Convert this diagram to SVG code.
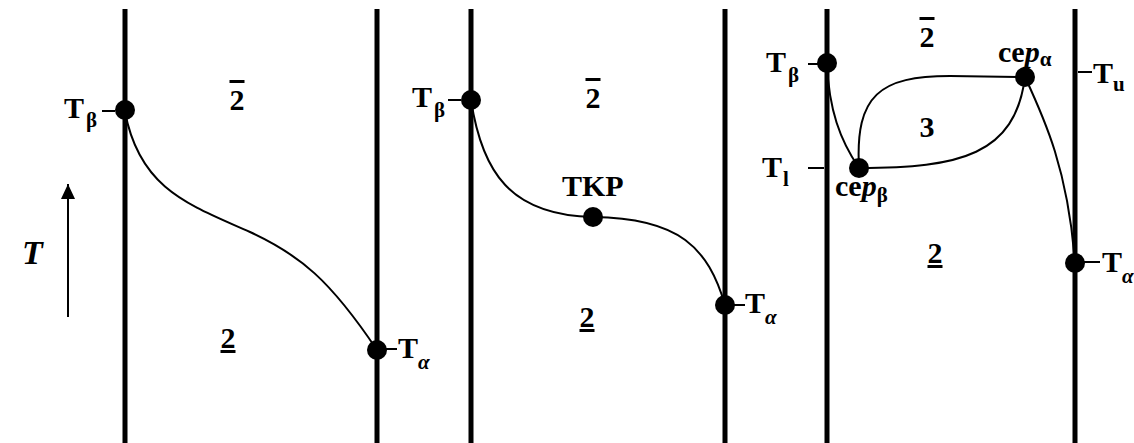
<svg xmlns="http://www.w3.org/2000/svg" width="1134" height="443" viewBox="0 0 1134 443">
<defs>
<style>
.axis{stroke:#000;stroke-width:5;fill:none}
.curve{stroke:#000;stroke-width:2;fill:none}
.tick{stroke:#000;stroke-width:2}
.dot{fill:#000}
text{font-family:"Liberation Serif","DejaVu Serif","Times New Roman",serif;font-weight:bold;fill:#000}
.lbl{font-size:30px}
.sub{font-size:21px}
.it{font-style:italic}
.ov{text-decoration:overline}
.un{text-decoration:underline}
</style>
<marker id="ah" viewBox="0 0 15 14" refX="15" refY="7" markerWidth="15" markerHeight="14" markerUnits="userSpaceOnUse" orient="auto">
<path d="M0,0 L15,7 L0,14 Z" fill="#000"/>
</marker>
</defs>
<rect width="1134" height="443" fill="#fff"/>

<g id="axes">
<line class="axis" x1="125" y1="9" x2="125" y2="443"/>
<line class="axis" x1="377" y1="9" x2="377" y2="443"/>
<line class="axis" x1="471" y1="9" x2="471" y2="443"/>
<line class="axis" x1="725" y1="9" x2="725" y2="443"/>
<line class="axis" x1="827" y1="9" x2="827" y2="443"/>
<line class="axis" x1="1075" y1="9" x2="1075" y2="443"/>
</g>

<g id="connectors">
<path class="curve" d="M125,112 C140,190 190,205 250,232 C300,255 330,280 377,350"/>
<path class="curve" d="M471,100 C482,172 510,215 593,217 C680,218 708,248 725,305"/>
<path class="curve" d="M827,64 C829,110 840,140 859,168"/>
<path class="curve" d="M859,168 C855,95 880,76 950,76 L1025,77"/>
<path class="curve" d="M859,168 C960,168 1015,155 1025,77"/>
<path class="curve" d="M1025,77 C1045,120 1068,170 1075,263"/>
<line class="tick" x1="102" y1="111" x2="115" y2="111"/>
<line class="tick" x1="386" y1="349" x2="397" y2="349"/>
<line class="tick" x1="448" y1="100" x2="461" y2="100"/>
<line class="tick" x1="734" y1="305" x2="745" y2="305"/>
<line class="tick" x1="808" y1="64" x2="820" y2="64"/>
<line class="tick" x1="808" y1="168" x2="824" y2="168"/>
<line class="tick" x1="1078" y1="72" x2="1092" y2="72"/>
<line class="tick" x1="1084" y1="262" x2="1100" y2="262"/>
</g>

<g id="axis-T">
<line x1="68" y1="317" x2="68" y2="184" stroke="#000" stroke-width="2" marker-end="url(#ah)"/>
<text class="it" x="22" y="264" style="font-size:34px">T</text>
</g>

<g id="p1-Tbeta">
<circle class="dot" cx="125" cy="110" r="10"/>
<text class="lbl" x="64" y="118">T<tspan class="sub" x="86" y="127">β</tspan></text>
</g>
<g id="p1-Talpha">
<circle class="dot" cx="377" cy="350" r="10"/>
<text class="lbl" x="398" y="358">T<tspan class="sub it" x="418" y="369">α</tspan></text>
</g>
<g id="p1-labels">
<text class="lbl ov" x="237" y="110" text-anchor="middle">2</text>
<text class="lbl un" x="228" y="348" text-anchor="middle">2</text>
</g>

<g id="p2-Tbeta">
<circle class="dot" cx="471" cy="100" r="10"/>
<text class="lbl" x="412" y="107">T<tspan class="sub" x="434" y="117">β</tspan></text>
</g>
<g id="p2-TKP">
<circle class="dot" cx="593" cy="217" r="10"/>
<text class="lbl" x="562" y="196">TKP</text>
</g>
<g id="p2-Talpha">
<circle class="dot" cx="725" cy="305" r="10"/>
<text class="lbl" x="745" y="313">T<tspan class="sub it" x="765" y="324">α</tspan></text>
</g>
<g id="p2-labels">
<text class="lbl ov" x="593" y="108" text-anchor="middle">2</text>
<text class="lbl un" x="587" y="327" text-anchor="middle">2</text>
</g>

<g id="p3-Tbeta">
<circle class="dot" cx="827" cy="63" r="10"/>
<text class="lbl" x="766" y="72">T<tspan class="sub" x="788" y="82">β</tspan></text>
</g>
<g id="p3-Tl">
<text class="lbl" x="762" y="177">T<tspan class="sub" x="783" y="186">l</tspan></text>
</g>
<g id="p3-cepbeta">
<circle class="dot" cx="859" cy="168" r="10"/>
<text class="lbl" x="835" y="196">ce<tspan class="it">p</tspan><tspan class="sub" dy="6">β</tspan></text>
</g>
<g id="p3-cepalpha">
<circle class="dot" cx="1025" cy="77" r="10"/>
<text class="lbl" x="998" y="62">ce<tspan class="it">p</tspan><tspan class="sub" dy="4">α</tspan></text>
</g>
<g id="p3-Tu">
<text class="lbl" x="1093" y="83">T<tspan class="sub" x="1113" y="91">u</tspan></text>
</g>
<g id="p3-Talpha">
<circle class="dot" cx="1075" cy="263" r="10"/>
<text class="lbl" x="1102" y="272">T<tspan class="sub it" x="1122" y="283">α</tspan></text>
</g>
<g id="p3-labels">
<text class="lbl ov" x="927" y="47" text-anchor="middle">2</text>
<text class="lbl" x="927" y="137" text-anchor="middle">3</text>
<text class="lbl un" x="935" y="263" text-anchor="middle">2</text>
</g>
</svg>
